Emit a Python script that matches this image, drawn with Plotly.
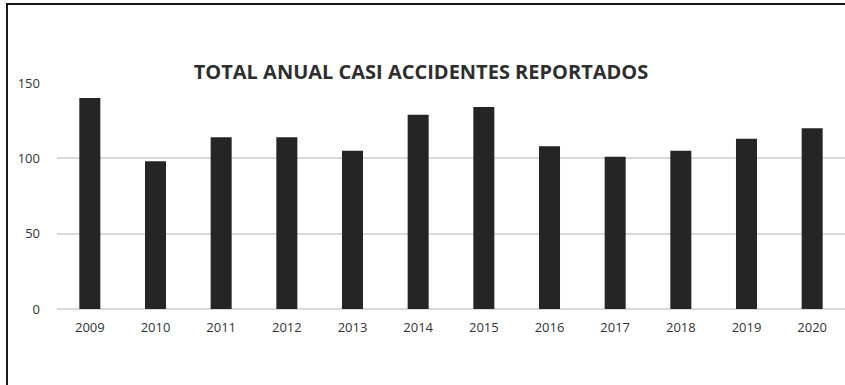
import plotly.graph_objects as go

# Annual totals of reported near-miss incidents
years = ["2009", "2010", "2011", "2012", "2013", "2014",
         "2015", "2016", "2017", "2018", "2019", "2020"]
totals = [140, 98, 114, 114, 105, 129, 134, 108, 101, 105, 113, 120]
y_ticks = [0, 50, 100, 150]

W, H = 845, 385
M_L, M_R, M_T, M_B = 57, 0, 83, 76

fig = go.Figure(
    go.Bar(
        x=years,
        y=totals,
        marker=dict(color="#252525", line=dict(width=0)),
        hoverinfo="x+y",
    )
)

# outer frame (only top and left edges fall inside the canvas)
plot_w = W - M_L - M_R
plot_h = H - M_T - M_B
def px_x(v):
    return (v - M_L) / plot_w
def px_y(v):
    return (H - M_B - v) / plot_h

fig.add_shape(
    type="rect", xref="paper", yref="paper",
    x0=px_x(7), x1=px_x(W + 20), y0=px_y(4), y1=px_y(H + 20),
    line=dict(color="#1a1a1a", width=2), layer="above",
)

fig.update_layout(
    width=W, height=H,
    margin=dict(l=M_L, r=M_R, t=M_T, b=M_B),
    paper_bgcolor="white",
    plot_bgcolor="white",
    bargap=0.68,
    showlegend=False,
    title=dict(
        text="TOTAL ANUAL CASI ACCIDENTES REPORTADOS",
        x=421 / W, xanchor="center",
        y=1 - 72 / H, yanchor="middle",
        font=dict(family="Open Sans", size=20, color="#2e2e2e", weight=700),
    ),
    xaxis=dict(
        type="category",
        showgrid=False,
        showline=False,
        ticks="",
        tickfont=dict(family="Open Sans", size=13, color="#333333"),
        ticklabelstandoff=9,
    ),
    yaxis=dict(
        range=[0, 150],
        tickvals=y_ticks,
        showgrid=True,
        gridcolor="#d9d9d9",
        gridwidth=1.5,
        zeroline=True,
        zerolinecolor="#d9d9d9",
        zerolinewidth=1.5,
        showline=False,
        ticks="",
        tickfont=dict(family="Open Sans", size=13, color="#333333"),
        ticklabelstandoff=16,
    ),
)

fig.write_html("out.html")
